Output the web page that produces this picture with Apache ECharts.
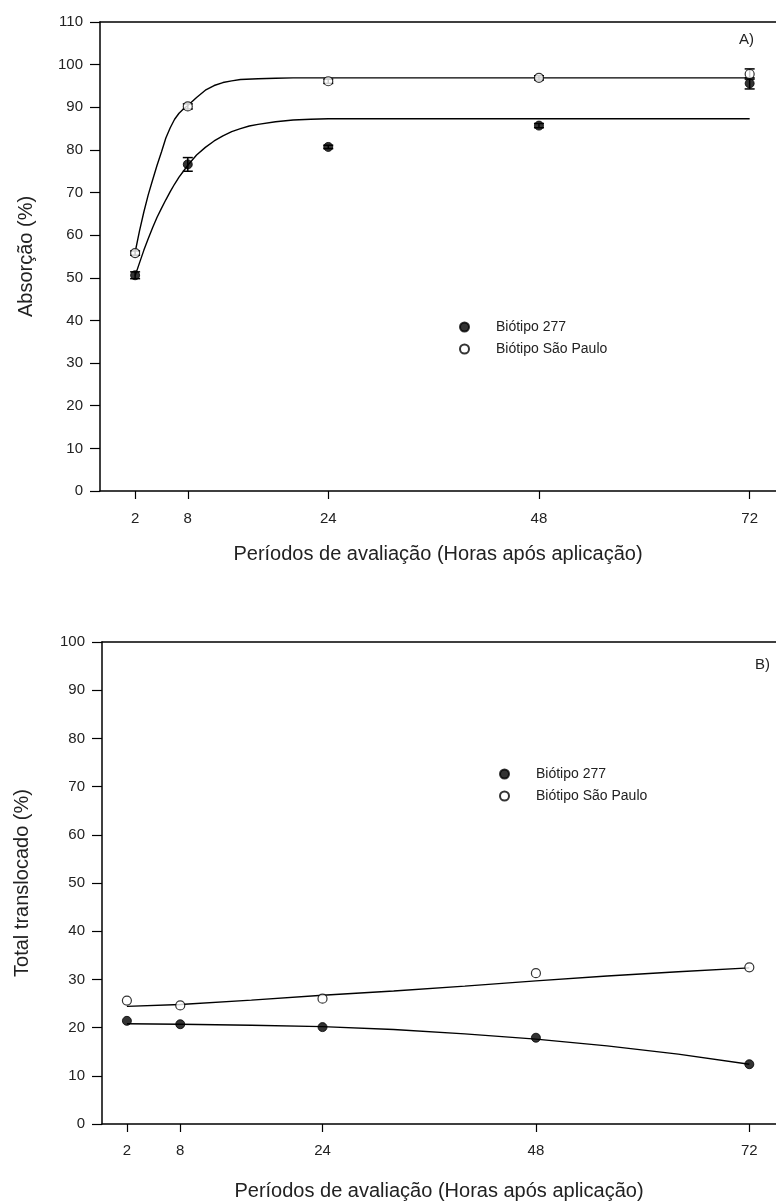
<!DOCTYPE html>
<html>
<head>
<meta charset="utf-8">
<script src="https://cdn.jsdelivr.net/npm/echarts@6/dist/echarts.min.js"></script>
<style>
html,body{margin:0;padding:0;background:#fff;}
#c{width:776px;height:1202px;}
</style>
</head>
<body>
<div id="c"></div>
<script>
// ---- data ----
const xTicks = [2, 8, 24, 48, 72];
// Panel A: Absorção (%)
const absSP = [55.8, 90.2, 96.1, 96.9, 97.8];
const absSPErr = [0.5, 0.6, 0.5, 0.5, 1.2];
const abs277 = [50.6, 76.6, 80.7, 85.7, 95.6];
const abs277Err = [0.8, 1.6, 0.4, 0.5, 1.3];
// fitted curves of panel A
const fitXSPA = [2, 2.5, 3, 3.5, 4, 4.5, 5, 5.5, 6, 6.5, 7, 7.5, 8, 9, 10, 11, 12, 13, 14, 16, 18, 20, 72];
const fitSPA = [56, 61, 65.5, 69.5, 73, 76.4, 79.5, 82.8, 85.2, 87.2, 88.6, 89.6, 90.4, 92.3, 94.0, 95.1, 95.8, 96.2, 96.5, 96.7, 96.8, 96.9, 96.9];
const fitX277A = [2, 2.5, 3, 3.5, 4, 4.5, 5, 5.5, 6, 6.5, 7, 7.5, 8, 9, 10, 11, 12, 13, 14, 15, 16, 18, 20, 22, 24, 72];
const fit277A = [50.5, 53.5, 56.5, 59.2, 61.8, 64.2, 66.3, 68.3, 70.2, 72.0, 73.6, 75.0, 76.4, 78.8, 80.6, 82.1, 83.3, 84.3, 85.0, 85.6, 86.0, 86.6, 87.0, 87.2, 87.3, 87.3];
// Panel B: Total translocado (%)
const transSP = [25.6, 24.6, 26.0, 31.3, 32.5];
const trans277 = [21.4, 20.7, 20.1, 17.9, 12.4];
const fitXB = [2, 8, 16, 24, 32, 40, 48, 56, 64, 72];
const fitSPB = [24.4, 24.8, 25.7, 26.7, 27.6, 28.6, 29.7, 30.7, 31.6, 32.4];
const fit277B = [20.8, 20.7, 20.5, 20.2, 19.6, 18.7, 17.6, 16.2, 14.5, 12.4];
const yTicksA = [0, 110, 10];
const yTicksB = [0, 100, 10];
const nameA = 'Absorção (%)';
const nameB = 'Total translocado (%)';
const nameX = 'Períodos de avaliação (Horas após aplicação)';
const s277 = 'Biótipo 277';
const sSP = 'Biótipo São Paulo';

const FONT = "'Liberation Sans', Arial, sans-serif";
const TXT = '#222';

function zip(xs, ys) { return xs.map((x, i) => [x, ys[i]]); }
function errData(xs, ys, es) { return xs.map((x, i) => [x, ys[i] - es[i], ys[i] + es[i]]); }

function errSeries(xi, yi, data) {
  return {
    type: 'custom', xAxisIndex: xi, yAxisIndex: yi, silent: true, z: 3,
    data: data,
    renderItem: function (params, api) {
      const x = api.value(0);
      const lo = api.coord([x, api.value(1)]);
      const hi = api.coord([x, api.value(2)]);
      const w = 5;
      const st = { stroke: '#000', lineWidth: 1.5 };
      return {
        type: 'group', children: [
          { type: 'line', shape: { x1: lo[0], y1: lo[1], x2: hi[0], y2: hi[1] }, style: st },
          { type: 'line', shape: { x1: lo[0] - w, y1: lo[1], x2: lo[0] + w, y2: lo[1] }, style: st },
          { type: 'line', shape: { x1: hi[0] - w, y1: hi[1], x2: hi[0] + w, y2: hi[1] }, style: st }
        ]
      };
    }
  };
}

function xAxisBottom(gi, min, max, gap, margin) {
  return {
    type: 'value', gridIndex: gi, min: min, max: max, position: 'bottom',
    name: nameX, nameLocation: 'middle', nameGap: gap,
    nameTextStyle: { fontFamily: FONT, fontSize: 20, color: TXT },
    axisLine: { show: true, onZero: false, lineStyle: { color: '#000', width: 1.5 } },
    axisTick: { show: true, inside: false, length: 8, customValues: xTicks, lineStyle: { color: '#000', width: 1.2 } },
    axisLabel: { show: true, customValues: xTicks, margin: margin, fontFamily: FONT, fontSize: 15, color: TXT },
    splitLine: { show: false }
  };
}
function xAxisTop(gi, min, max) {
  return {
    type: 'value', gridIndex: gi, min: min, max: max, position: 'top',
    axisLine: { show: true, onZero: false, lineStyle: { color: '#000', width: 1.5 } },
    axisTick: { show: false }, axisLabel: { show: false }, splitLine: { show: false }
  };
}
function yAxis(gi, t, name, gap) {
  return {
    type: 'value', gridIndex: gi, min: t[0], max: t[1], interval: t[2],
    name: name, nameLocation: 'middle', nameGap: gap,
    nameTextStyle: { fontFamily: FONT, fontSize: 20, color: TXT },
    axisLine: { show: true, onZero: false, lineStyle: { color: '#000', width: 1.5 } },
    axisTick: { show: true, inside: false, length: 10, lineStyle: { color: '#000', width: 1.2 } },
    axisLabel: { margin: 17, fontFamily: FONT, fontSize: 15, color: TXT },
    splitLine: { show: false }
  };
}
function fitLine(xi, yi, xs, ys) {
  return {
    type: 'line', xAxisIndex: xi, yAxisIndex: yi, data: zip(xs, ys),
    showSymbol: false, smooth: false, silent: true, z: 2,
    lineStyle: { color: '#000', width: 1.4 }
  };
}
function pts(xi, yi, name, ys, filled) {
  return {
    type: 'scatter', name: name, xAxisIndex: xi, yAxisIndex: yi,
    data: zip(xTicks, ys), symbol: 'circle', symbolSize: 9, z: 4,
    itemStyle: filled ? { color: '#000', borderColor: '#000', borderWidth: 1 }
                      : { color: '#fff', borderColor: '#000', borderWidth: 1.2 }
  };
}
function legend(left, top) {
  return {
    left: left, top: top, orient: 'vertical', itemGap: 8,
    itemWidth: 9, itemHeight: 9, selectedMode: false,
    data: [s277, sSP],
    textStyle: { fontFamily: FONT, fontSize: 14, color: TXT, padding: [0, 0, 0, 22] }
  };
}

const option = {
  animation: false,
  backgroundColor: '#fff',
  grid: [
    { left: 100, top: 22, right: -13, height: 469 },
    { left: 102, top: 642, right: -8, height: 482 }
  ],
  xAxis: [
    xAxisBottom(0, -2, 75, 53, 20), xAxisTop(0, -2, 75),
    xAxisBottom(1, -0.8, 75, 57, 19), xAxisTop(1, -0.8, 75)
  ],
  yAxis: [
    yAxis(0, yTicksA, nameA, 64),
    yAxis(1, yTicksB, nameB, 70)
  ],
  legend: [legend(454, 315), legend(494, 762)],
  graphic: [
    { type: 'text', left: 739, top: 32, style: { text: 'A)', font: '15px ' + FONT, fill: TXT } },
    { type: 'text', left: 755, top: 657, style: { text: 'B)', font: '15px ' + FONT, fill: TXT } }
  ],
  series: [
    fitLine(0, 0, fitXSPA, fitSPA),
    fitLine(0, 0, fitX277A, fit277A),
    errSeries(0, 0, errData(xTicks, absSP, absSPErr)),
    errSeries(0, 0, errData(xTicks, abs277, abs277Err)),
    pts(0, 0, sSP, absSP, false),
    pts(0, 0, s277, abs277, true),
    fitLine(2, 1, fitXB, fitSPB),
    fitLine(2, 1, fitXB, fit277B),
    pts(2, 1, sSP, transSP, false),
    pts(2, 1, s277, trans277, true)
  ]
};
const chart = echarts.init(document.getElementById('c'), null, { renderer: 'canvas' });
chart.setOption(option);
</script>
</body>
</html>
